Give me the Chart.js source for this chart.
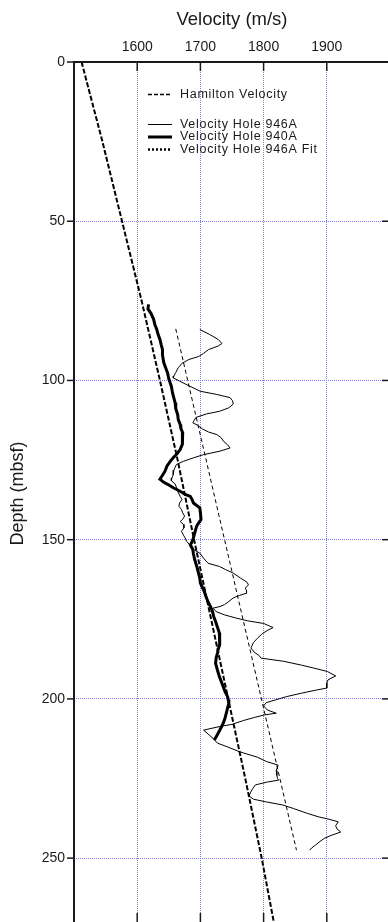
<!DOCTYPE html>
<html>
<head>
<meta charset="utf-8">
<title>Velocity vs Depth</title>
<script src="https://cdn.jsdelivr.net/npm/chart.js@4.4.1/dist/chart.umd.min.js"></script>
<style>
  html, body { margin: 0; padding: 0; background: #fff; overflow: hidden; }
  #wrap { position: relative; width: 388px; height: 922px; overflow: hidden; }
  #velChart { position: absolute; left: 0; top: 0; }
</style>
</head>
<body>
<div id="wrap"><canvas id="velChart" width="400" height="935"></canvas></div>
<script>
// Ejes
const velocityTicks = [1500, 1600, 1700, 1800, 1900, 2000];
const depthTicks = [0, 50, 100, 150, 200, 250];

// Hamilton Velocity
const hamiltonDepth = [0, 25, 50, 75, 100, 125, 150, 175, 200, 225, 250, 271];
const hamiltonVel = [1512, 1545, 1576, 1607, 1636, 1664, 1690, 1717, 1744, 1771, 1797, 1817];

// Velocity Hole 946A
const hole946ADepth = [84.0, 85.5, 87.1, 88.4, 89.2, 90.3, 91.5, 92.5, 93.4, 94.6, 96.0, 97.5, 98.6, 99.2,
  100.2, 101.8, 103.4, 104.4, 105.4, 106.4, 107.4, 108.6, 109.7, 110.5, 111.6, 112.6, 113.3, 114.0,
  115.2, 116.2, 117.0, 118.0, 119.2, 120.2, 121.2, 122.2, 123.3, 124.3, 125.4, 126.4, 127.3, 128.2,
  129.6, 130.6, 131.5, 132.5, 133.5, 134.8, 136.4, 137.4, 138.5, 139.5, 140.5, 141.6, 142.6, 143.6,
  144.3, 145.2, 146.3, 147.4, 148.5, 149.5, 150.5, 151.8, 153.1, 154.2, 155.8, 157.4, 158.4, 159.4,
  160.5, 162.0, 163.4, 164.2, 165.2, 166.0, 166.8, 167.5, 168.3, 169.4, 170.4, 171.0, 171.5, 172.6,
  173.6, 174.6, 175.5, 176.3, 177.6, 178.4, 179.5, 181.0, 182.3, 184.0, 185.3, 186.4, 187.2, 188.2,
  189.4, 190.3, 191.4, 192.8, 194.0, 195.0, 196.6, 197.2, 198.2, 199.3, 200.3, 201.2, 202.2, 203.5,
  204.5, 205.0, 205.8, 206.8, 208.0, 208.7, 209.8, 211.0, 212.4, 213.9, 215.0, 216.6, 218.3, 219.7,
  220.8, 222.5, 224.0, 225.0, 225.5, 226.1, 227.0, 228.1, 229.5, 230.5, 231.5, 232.3, 233.3, 234.4,
  236.0, 237.1, 237.7, 238.6, 239.8, 240.8, 241.8, 243.0, 243.8, 244.8, 245.9, 246.8, 247.5];
const hole946AVel = [1699, 1714, 1728, 1734, 1728, 1713, 1705, 1697, 1682, 1671, 1665, 1661, 1658, 1657,
  1667, 1683, 1700, 1726, 1747, 1751, 1752, 1745, 1730, 1710, 1693, 1690, 1688, 1695,
  1703, 1713, 1726, 1733, 1737, 1743, 1747, 1731, 1705, 1689, 1673, 1662, 1660, 1658,
  1657, 1655, 1654, 1660, 1662, 1664, 1668, 1671, 1667, 1666, 1670, 1672, 1675, 1672,
  1668, 1673, 1674, 1670, 1673, 1676, 1678, 1684, 1689, 1699, 1705, 1712, 1730, 1740,
  1752, 1763, 1774, 1776, 1771, 1773, 1773, 1762, 1752, 1745, 1738, 1731, 1720, 1725,
  1738, 1756, 1775, 1800, 1815, 1807, 1798, 1790, 1784, 1780, 1785, 1793, 1796, 1832,
  1860, 1879, 1901, 1914, 1902, 1900, 1900, 1884, 1860, 1836, 1819, 1804, 1800, 1806,
  1820, 1802, 1786, 1768, 1750, 1730, 1705, 1712, 1720, 1727, 1742, 1762, 1790, 1805,
  1823, 1820, 1821, 1822, 1824, 1806, 1787, 1783, 1779, 1777, 1784, 1803, 1830, 1847,
  1870, 1888, 1902, 1918, 1914, 1916, 1922, 1905, 1896, 1889, 1882, 1876, 1873];

// Velocity Hole 940A
const hole940ADepth = [76.1, 77.5, 79.0, 80.8, 82.5, 84.0, 85.5, 87.1, 88.8, 90.3, 92.0, 94.4, 96.0, 97.6,
  99.5, 101.8, 104.0, 107.0, 108.8, 110.7, 112.3, 113.8, 115.0, 116.4, 118.6, 120.0, 121.7, 123.0,
  124.3, 125.5, 126.9, 128.5, 130.1, 131.0, 132.0, 132.7, 133.7, 134.8, 135.8, 136.4, 137.5, 138.5,
  140.0, 141.5, 143.7, 144.8, 145.8, 147.9, 149.5, 151.0, 151.6, 153.1, 154.5, 156.3, 158.9, 160.5,
  162.0, 163.6, 166.2, 168.0, 169.9, 171.0, 172.5, 174.1, 175.7, 177.5, 179.3, 181.0, 183.0, 184.5,
  185.6, 187.0, 188.8, 191.0, 193.0, 194.5, 196.1, 197.7, 199.3, 200.3, 201.4, 202.8, 204.5, 206.0,
  207.7, 209.7, 211.2, 212.9];
const hole940AVel = [1618, 1617, 1622, 1626, 1628, 1631, 1633, 1636, 1638, 1640, 1640, 1642, 1645, 1648,
  1650, 1654, 1656, 1660, 1661, 1664, 1665, 1668, 1669, 1672, 1672, 1671, 1668, 1663,
  1657, 1652, 1647, 1644, 1639, 1636, 1642, 1649, 1657, 1668, 1676, 1684, 1687, 1689,
  1699, 1700, 1701, 1697, 1694, 1691, 1689, 1686, 1684, 1688, 1689, 1691, 1695, 1697,
  1699, 1700, 1706, 1709, 1713, 1716, 1719, 1721, 1724, 1727, 1730, 1731, 1730, 1728,
  1727, 1725, 1724, 1727, 1730, 1733, 1736, 1739, 1743, 1744, 1745, 1743, 1741, 1739,
  1736, 1731, 1727, 1722];

// Velocity Hole 946A Fit
const fitDepth = [83.8, 247.5];
const fitVel = [1661, 1852];

// Convertir pares (velocidad, profundidad) a puntos
function toPoints(vel, depth) {
    return vel.map((v, i) => ({ x: v, y: depth[i] }));
}

const FONT = '"Liberation Sans", Arial, Helvetica, sans-serif';
const INK = '#1a1a1a';
const GRID = '#8282c8';

// Marco y marcas de los ejes
const framePlugin = {
    id: 'frame',
    afterDraw(chart) {
        const { ctx, chartArea: a, scales } = chart;
        const seg = (x1, y1, x2, y2) => {
            ctx.beginPath();
            ctx.moveTo(x1, y1);
            ctx.lineTo(x2, y2);
            ctx.stroke();
        };
        ctx.save();
        ctx.strokeStyle = INK;
        ctx.lineWidth = 1.5;
        velocityTicks.forEach(v => {
            const x = scales.x.getPixelForValue(v);
            seg(x, a.top, x, a.top + 9);
            seg(x, a.bottom, x, a.bottom - 12);
        });
        depthTicks.forEach(d => {
            const y = scales.y.getPixelForValue(d);
            seg(a.left - 7, y, a.left, y);
            seg(a.right, y, a.right - 8, y);
        });
        ctx.lineWidth = 2;
        ctx.strokeRect(a.left, a.top, a.right - a.left, a.bottom - a.top);
        ctx.restore();
    }
};

// Leyenda dentro del área del gráfico
const insideLegend = {
    id: 'insideLegend',
    afterDatasetsDraw(chart, args, opts) {
        const { ctx } = chart;
        ctx.save();
        ctx.font = opts.font;
        ctx.letterSpacing = opts.letterSpacing;
        ctx.fillStyle = INK;
        ctx.textBaseline = 'middle';
        chart.data.datasets.forEach((ds, i) => {
            const y = opts.rows[i];
            ctx.strokeStyle = ds.borderColor;
            ctx.lineWidth = ds.legendWidth || ds.borderWidth;
            ctx.setLineDash(ds.legendDash || ds.borderDash || []);
            ctx.beginPath();
            ctx.moveTo(opts.x, y);
            ctx.lineTo(opts.x + opts.lineLength, y);
            ctx.stroke();
            ctx.setLineDash([]);
            ctx.fillText(ds.label, opts.x + opts.lineLength + 8, y);
        });
        ctx.restore();
    }
};

const ctx = document.getElementById('velChart').getContext('2d');

const velChart = new Chart(ctx, {
    type: 'scatter',
    data: {
        datasets: [
            {
                label: 'Hamilton Velocity',
                data: toPoints(hamiltonVel, hamiltonDepth),
                borderColor: '#000',
                borderWidth: 2,
                borderDash: [5, 2],
                legendWidth: 1.5,
                legendDash: [4, 2]
            },
            {
                label: 'Velocity Hole 946A',
                data: toPoints(hole946AVel, hole946ADepth),
                borderColor: '#000',
                borderWidth: 1
            },
            {
                label: 'Velocity Hole 940A',
                data: toPoints(hole940AVel, hole940ADepth),
                borderColor: '#000',
                borderWidth: 3
            },
            {
                label: 'Velocity Hole 946A Fit',
                data: toPoints(fitVel, fitDepth),
                borderColor: '#000',
                borderWidth: 1,
                borderDash: [4, 3],
                legendWidth: 2.5,
                legendDash: [2, 2]
            }
        ]
    },
    options: {
        responsive: false,
        animation: false,
        showLine: true,
        elements: {
            point: { radius: 0, hoverRadius: 0 },
            line: { tension: 0, fill: false, borderJoinStyle: 'miter' }
        },
        layout: { padding: { left: 0, top: 0, right: 10, bottom: 10 } },
        scales: {
            x: {
                type: 'linear',
                position: 'top',
                min: 1500,
                max: 2000,
                afterBuildTicks: scale => { scale.ticks = velocityTicks.map(v => ({ value: v })); },
                afterFit: scale => {
                    scale.height = 62;
                    scale.paddingLeft = 0;
                    scale.paddingRight = 0;
                },
                ticks: {
                    autoSkip: false,
                    maxRotation: 0,
                    padding: 6,
                    color: INK,
                    font: { family: FONT, size: 14 },
                    callback: v => (v > 1500 && v < 2000) ? String(v) : ''
                },
                grid: { color: GRID, lineWidth: 1, drawTicks: false },
                border: { display: false, dash: [1, 1] },
                title: {
                    display: true,
                    text: 'Velocity (m/s)',
                    color: INK,
                    font: { family: FONT, size: 18.5 },
                    padding: { top: 9, bottom: 0 }
                }
            },
            y: {
                type: 'linear',
                position: 'left',
                reverse: true,
                min: 0,
                max: 271,
                afterBuildTicks: scale => { scale.ticks = depthTicks.map(d => ({ value: d })); },
                afterFit: scale => {
                    scale.width = 74;
                    scale.paddingTop = 0;
                    scale.paddingBottom = 0;
                },
                ticks: {
                    autoSkip: false,
                    padding: 9,
                    color: INK,
                    font: { family: FONT, size: 14 }
                },
                grid: { color: GRID, lineWidth: 1, drawTicks: false },
                border: { display: false, dash: [1, 1] },
                title: {
                    display: true,
                    text: 'Depth (mbsf)',
                    color: INK,
                    font: { family: FONT, size: 18 },
                    padding: { top: 7, bottom: 0 }
                }
            }
        },
        plugins: {
            legend: { display: false },
            tooltip: { enabled: false },
            insideLegend: {
                x: 148,
                lineLength: 24,
                rows: [94.5, 124.5, 137, 149.5],
                font: '12.5px ' + FONT,
                letterSpacing: '0.7px'
            }
        }
    },
    plugins: [framePlugin, insideLegend]
});
</script>
</body>
</html>
